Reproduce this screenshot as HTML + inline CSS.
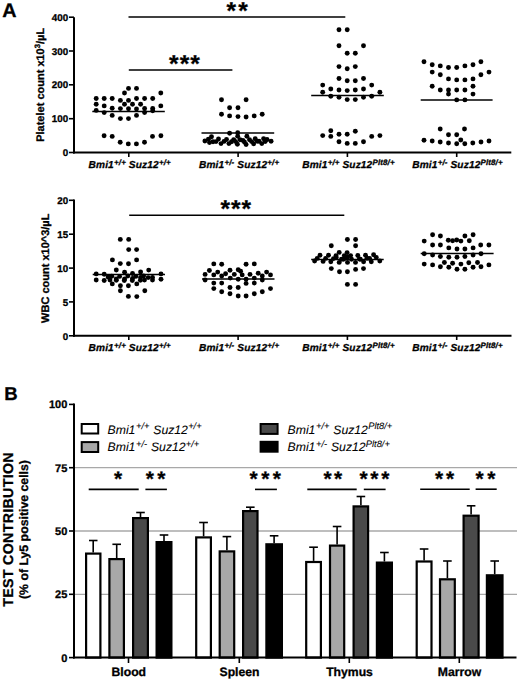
<!DOCTYPE html>
<html><head><meta charset="utf-8"><title>Figure</title>
<style>html,body{margin:0;padding:0;background:#fff;width:520px;height:680px;overflow:hidden}svg{display:block}</style>
</head><body>
<svg width="520" height="680" viewBox="0 0 520 680">
<style>
text{font-family:"Liberation Sans",sans-serif;fill:#000;text-rendering:geometricPrecision;stroke:#000;stroke-width:0.3px;stroke-linejoin:round}
.tk{font-weight:bold;font-size:9.8px}
.tk2{font-weight:bold;font-size:11px}
.xl{font-weight:bold;font-style:italic;letter-spacing:0.15px}
.st{font-weight:bold}
.lg{font-style:italic;font-size:12.2px;stroke-width:0.08px}
.gl{font-weight:bold;font-size:12.2px}
</style>
<rect width="520" height="680" fill="#fff"/>
<text x="2.3" y="16.9" font-weight="bold" font-size="19.8">A</text>
<text x="4.3" y="399.5" font-weight="bold" font-size="18.6">B</text>

<!-- ===== Platelet chart ===== -->
<g stroke="#000" stroke-width="2" fill="none">
<line x1="74" y1="17.3" x2="74" y2="153.5"/>
<line x1="73" y1="152.5" x2="511.3" y2="152.5"/>
</g>
<g stroke="#000" stroke-width="1.6"><line x1="69" y1="152.5" x2="74" y2="152.5"/><text class="tk" x="68.2" y="156.0" text-anchor="end">0</text><line x1="69" y1="118.7" x2="74" y2="118.7"/><text class="tk" x="68.2" y="122.2" text-anchor="end">100</text><line x1="69" y1="84.8" x2="74" y2="84.8"/><text class="tk" x="68.2" y="88.3" text-anchor="end">200</text><line x1="69" y1="51.0" x2="74" y2="51.0"/><text class="tk" x="68.2" y="54.5" text-anchor="end">300</text><line x1="69" y1="17.2" x2="74" y2="17.2"/><text class="tk" x="68.2" y="20.7" text-anchor="end">400</text><line x1="128.8" y1="152" x2="128.8" y2="157"/><line x1="238.1" y1="152" x2="238.1" y2="157"/><line x1="347.4" y1="152" x2="347.4" y2="157"/><line x1="456.7" y1="152" x2="456.7" y2="157"/></g>
<text transform="translate(43.6,141.8) rotate(-90)" font-weight="bold" font-size="11">Platelet count x10<tspan dy="-3.9" font-size="7.7">3</tspan><tspan dy="3.9">/µL</tspan></text>
<g fill="#000"><circle cx="128.5" cy="88.4" r="2.45"/><circle cx="136.5" cy="88.4" r="2.45"/><circle cx="124.5" cy="93.0" r="2.45"/><circle cx="160.8" cy="93.0" r="2.45"/><circle cx="96.2" cy="98.5" r="2.45"/><circle cx="104.2" cy="98.5" r="2.45"/><circle cx="112.2" cy="98.5" r="2.45"/><circle cx="136.5" cy="98.5" r="2.45"/><circle cx="144.6" cy="98.5" r="2.45"/><circle cx="152.7" cy="98.5" r="2.45"/><circle cx="120.4" cy="100.4" r="2.45"/><circle cx="128.5" cy="100.4" r="2.45"/><circle cx="96.2" cy="104.2" r="2.45"/><circle cx="124.5" cy="104.2" r="2.45"/><circle cx="132.5" cy="104.2" r="2.45"/><circle cx="140.6" cy="104.2" r="2.45"/><circle cx="104.2" cy="105.9" r="2.45"/><circle cx="160.8" cy="105.9" r="2.45"/><circle cx="112.2" cy="108.3" r="2.45"/><circle cx="120.4" cy="108.6" r="2.45"/><circle cx="128.5" cy="108.8" r="2.45"/><circle cx="136.5" cy="109.0" r="2.45"/><circle cx="144.6" cy="108.5" r="2.45"/><circle cx="152.7" cy="108.5" r="2.45"/><circle cx="96.2" cy="110.4" r="2.45"/><circle cx="152.7" cy="110.8" r="2.45"/><circle cx="104.2" cy="112.6" r="2.45"/><circle cx="144.6" cy="112.5" r="2.45"/><circle cx="112.2" cy="115.4" r="2.45"/><circle cx="136.5" cy="115.4" r="2.45"/><circle cx="120.4" cy="118.6" r="2.45"/><circle cx="128.5" cy="118.6" r="2.45"/><circle cx="104.1" cy="135.7" r="2.45"/><circle cx="112.2" cy="136.4" r="2.45"/><circle cx="152.5" cy="136.4" r="2.45"/><circle cx="160.9" cy="135.7" r="2.45"/><circle cx="120.2" cy="142.2" r="2.45"/><circle cx="144.5" cy="142.2" r="2.45"/><circle cx="128.3" cy="143.9" r="2.45"/><circle cx="136.4" cy="143.9" r="2.45"/><circle cx="221.5" cy="99.8" r="2.45"/><circle cx="246.1" cy="99.8" r="2.45"/><circle cx="229.6" cy="107.7" r="2.45"/><circle cx="238.0" cy="107.7" r="2.45"/><circle cx="221.5" cy="114.3" r="2.45"/><circle cx="229.6" cy="115.9" r="2.45"/><circle cx="238.0" cy="116.6" r="2.45"/><circle cx="246.1" cy="117.0" r="2.45"/><circle cx="254.2" cy="115.9" r="2.45"/><circle cx="262.2" cy="114.3" r="2.45"/><circle cx="229.6" cy="133.2" r="2.45"/><circle cx="237.7" cy="132.8" r="2.45"/><circle cx="237.7" cy="136.3" r="2.45"/><circle cx="246.9" cy="136.3" r="2.45"/><circle cx="211.5" cy="136.7" r="2.45"/><circle cx="204.9" cy="141.0" r="2.45"/><circle cx="208.4" cy="139.3" r="2.45"/><circle cx="213.0" cy="141.8" r="2.45"/><circle cx="218.5" cy="139.0" r="2.45"/><circle cx="221.0" cy="143.6" r="2.45"/><circle cx="226.5" cy="139.5" r="2.45"/><circle cx="228.9" cy="143.6" r="2.45"/><circle cx="233.7" cy="139.6" r="2.45"/><circle cx="237.4" cy="144.2" r="2.45"/><circle cx="240.0" cy="139.8" r="2.45"/><circle cx="242.9" cy="140.4" r="2.45"/><circle cx="246.1" cy="144.5" r="2.45"/><circle cx="249.5" cy="139.8" r="2.45"/><circle cx="253.6" cy="143.8" r="2.45"/><circle cx="255.2" cy="138.7" r="2.45"/><circle cx="259.0" cy="141.3" r="2.45"/><circle cx="261.8" cy="143.6" r="2.45"/><circle cx="263.6" cy="138.7" r="2.45"/><circle cx="267.0" cy="139.5" r="2.45"/><circle cx="271.1" cy="141.3" r="2.45"/><circle cx="216.0" cy="141.6" r="2.45"/><circle cx="224.0" cy="141.4" r="2.45"/><circle cx="231.5" cy="141.8" r="2.45"/><circle cx="235.6" cy="141.6" r="2.45"/><circle cx="244.4" cy="142.0" r="2.45"/><circle cx="251.6" cy="141.6" r="2.45"/><circle cx="257.2" cy="141.2" r="2.45"/><circle cx="265.2" cy="141.6" r="2.45"/><circle cx="209.5" cy="142.6" r="2.45"/><circle cx="339.0" cy="29.8" r="2.45"/><circle cx="347.2" cy="29.8" r="2.45"/><circle cx="339.0" cy="45.7" r="2.45"/><circle cx="363.5" cy="45.7" r="2.45"/><circle cx="347.2" cy="53.2" r="2.45"/><circle cx="355.3" cy="53.2" r="2.45"/><circle cx="339.0" cy="66.6" r="2.45"/><circle cx="347.2" cy="68.7" r="2.45"/><circle cx="355.3" cy="66.6" r="2.45"/><circle cx="339.0" cy="78.5" r="2.45"/><circle cx="347.2" cy="80.8" r="2.45"/><circle cx="355.3" cy="80.8" r="2.45"/><circle cx="363.5" cy="78.5" r="2.45"/><circle cx="322.7" cy="85.1" r="2.45"/><circle cx="371.7" cy="85.1" r="2.45"/><circle cx="330.8" cy="89.0" r="2.45"/><circle cx="339.0" cy="90.0" r="2.45"/><circle cx="347.2" cy="90.6" r="2.45"/><circle cx="355.3" cy="90.0" r="2.45"/><circle cx="363.5" cy="89.0" r="2.45"/><circle cx="322.7" cy="92.3" r="2.45"/><circle cx="379.9" cy="92.3" r="2.45"/><circle cx="330.8" cy="96.3" r="2.45"/><circle cx="339.0" cy="97.2" r="2.45"/><circle cx="347.2" cy="99.6" r="2.45"/><circle cx="355.3" cy="99.6" r="2.45"/><circle cx="363.5" cy="97.2" r="2.45"/><circle cx="371.7" cy="96.3" r="2.45"/><circle cx="330.8" cy="130.7" r="2.45"/><circle cx="355.3" cy="131.2" r="2.45"/><circle cx="322.7" cy="135.6" r="2.45"/><circle cx="330.8" cy="136.4" r="2.45"/><circle cx="339.0" cy="134.3" r="2.45"/><circle cx="347.2" cy="134.3" r="2.45"/><circle cx="371.7" cy="136.4" r="2.45"/><circle cx="379.9" cy="135.6" r="2.45"/><circle cx="339.0" cy="141.8" r="2.45"/><circle cx="347.2" cy="143.4" r="2.45"/><circle cx="355.3" cy="143.4" r="2.45"/><circle cx="363.5" cy="141.8" r="2.45"/><circle cx="424.0" cy="61.8" r="2.45"/><circle cx="432.2" cy="64.7" r="2.45"/><circle cx="440.3" cy="65.9" r="2.45"/><circle cx="448.5" cy="67.5" r="2.45"/><circle cx="456.7" cy="67.5" r="2.45"/><circle cx="464.9" cy="65.9" r="2.45"/><circle cx="473.0" cy="64.7" r="2.45"/><circle cx="480.9" cy="61.8" r="2.45"/><circle cx="432.2" cy="72.1" r="2.45"/><circle cx="440.3" cy="74.8" r="2.45"/><circle cx="480.9" cy="74.8" r="2.45"/><circle cx="489.0" cy="72.1" r="2.45"/><circle cx="448.5" cy="78.9" r="2.45"/><circle cx="456.7" cy="79.9" r="2.45"/><circle cx="464.9" cy="79.9" r="2.45"/><circle cx="473.0" cy="78.9" r="2.45"/><circle cx="432.2" cy="86.3" r="2.45"/><circle cx="473.0" cy="86.3" r="2.45"/><circle cx="440.3" cy="90.0" r="2.45"/><circle cx="448.5" cy="90.0" r="2.45"/><circle cx="456.7" cy="90.0" r="2.45"/><circle cx="464.9" cy="90.0" r="2.45"/><circle cx="448.5" cy="94.1" r="2.45"/><circle cx="473.0" cy="94.1" r="2.45"/><circle cx="456.7" cy="99.9" r="2.45"/><circle cx="464.9" cy="99.9" r="2.45"/><circle cx="440.2" cy="129.0" r="2.45"/><circle cx="464.5" cy="129.0" r="2.45"/><circle cx="448.5" cy="134.8" r="2.45"/><circle cx="456.7" cy="134.8" r="2.45"/><circle cx="424.0" cy="140.3" r="2.45"/><circle cx="432.2" cy="141.0" r="2.45"/><circle cx="440.2" cy="142.0" r="2.45"/><circle cx="448.5" cy="143.0" r="2.45"/><circle cx="456.7" cy="143.8" r="2.45"/><circle cx="460.8" cy="140.0" r="2.45"/><circle cx="464.8" cy="143.8" r="2.45"/><circle cx="472.8" cy="143.0" r="2.45"/><circle cx="481.0" cy="142.0" r="2.45"/><circle cx="489.0" cy="141.0" r="2.45"/></g>
<g stroke="#000" stroke-width="1.5">
<line x1="92.3" y1="111.5" x2="164.8" y2="111.5"/>
<line x1="201.5" y1="132.9" x2="274.2" y2="132.9"/>
<line x1="311.2" y1="95.5" x2="383.8" y2="95.5"/>
<line x1="420.7" y1="99.9" x2="492.6" y2="99.9"/>
<line x1="128.5" y1="17.0" x2="345.3" y2="17.0"/>
<line x1="128.8" y1="69.9" x2="232.4" y2="69.9"/>
</g>
<text class="st" x="226.6" y="18.5" font-size="24.5" letter-spacing="2.1">**</text>
<text class="st" x="168.9" y="72.2" font-size="24.5" letter-spacing="1.2">***</text>
<text class="xl" x="88.6" y="168.4" font-size="10.1">Bmi1<tspan dx="0.2" dy="-3.3" font-size="7.9">+/+</tspan><tspan dx="2.9" dy="3.3">Suz12</tspan><tspan dx="0.1" dy="-3.3" font-size="7.9">+/+</tspan></text>
<text class="xl" x="199.0" y="168.4" font-size="10.1">Bmi1<tspan dx="0.2" dy="-3.3" font-size="7.9">+/-</tspan><tspan dx="2.9" dy="3.3">Suz12</tspan><tspan dx="0.1" dy="-3.3" font-size="7.9">+/+</tspan></text>
<text class="xl" x="302.2" y="168.4" font-size="10.1">Bmi1<tspan dx="0.2" dy="-3.3" font-size="7.9">+/+</tspan><tspan dx="2.9" dy="3.3">Suz12</tspan><tspan dx="0.1" dy="-3.3" font-size="7.9">Plt8/+</tspan></text>
<text class="xl" x="412.2" y="168.4" font-size="10.1">Bmi1<tspan dx="0.2" dy="-3.3" font-size="7.9">+/-</tspan><tspan dx="2.9" dy="3.3">Suz12</tspan><tspan dx="0.1" dy="-3.3" font-size="7.9">Plt8/+</tspan></text>

<!-- ===== WBC chart ===== -->
<g stroke="#000" stroke-width="2" fill="none">
<line x1="74" y1="199.4" x2="74" y2="336.8"/>
<line x1="73" y1="335.8" x2="511.5" y2="335.8"/>
</g>
<g stroke="#000" stroke-width="1.6"><line x1="69" y1="335.8" x2="74" y2="335.8"/><text class="tk" x="68.2" y="339.5" text-anchor="end">0</text><line x1="69" y1="301.9" x2="74" y2="301.9"/><text class="tk" x="68.2" y="305.6" text-anchor="end">5</text><line x1="69" y1="268.1" x2="74" y2="268.1"/><text class="tk" x="68.2" y="271.8" text-anchor="end">10</text><line x1="69" y1="234.2" x2="74" y2="234.2"/><text class="tk" x="68.2" y="237.9" text-anchor="end">15</text><line x1="69" y1="200.3" x2="74" y2="200.3"/><text class="tk" x="68.2" y="204.0" text-anchor="end">20</text><line x1="128.8" y1="335" x2="128.8" y2="340"/><line x1="238.1" y1="335" x2="238.1" y2="340"/><line x1="347.4" y1="335" x2="347.4" y2="340"/><line x1="456.7" y1="335" x2="456.7" y2="340"/></g>
<text transform="translate(49.4,322.9) rotate(-90)" font-weight="bold" font-size="11">WBC count x10^3/µL</text>
<g fill="#000"><circle cx="120.3" cy="239.4" r="2.45"/><circle cx="128.7" cy="239.4" r="2.45"/><circle cx="128.7" cy="249.6" r="2.45"/><circle cx="136.6" cy="249.6" r="2.45"/><circle cx="112.4" cy="259.9" r="2.45"/><circle cx="136.6" cy="259.9" r="2.45"/><circle cx="120.3" cy="263.6" r="2.45"/><circle cx="128.5" cy="263.8" r="2.45"/><circle cx="116.3" cy="270.0" r="2.45"/><circle cx="148.7" cy="270.1" r="2.45"/><circle cx="124.6" cy="272.2" r="2.45"/><circle cx="140.6" cy="272.0" r="2.45"/><circle cx="132.5" cy="273.5" r="2.45"/><circle cx="96.2" cy="273.9" r="2.45"/><circle cx="104.2" cy="274.3" r="2.45"/><circle cx="161.0" cy="273.9" r="2.45"/><circle cx="108.1" cy="277.0" r="2.45"/><circle cx="116.2" cy="278.9" r="2.45"/><circle cx="124.6" cy="278.9" r="2.45"/><circle cx="132.5" cy="278.5" r="2.45"/><circle cx="140.6" cy="277.4" r="2.45"/><circle cx="152.5" cy="277.4" r="2.45"/><circle cx="96.2" cy="280.0" r="2.45"/><circle cx="104.2" cy="280.5" r="2.45"/><circle cx="144.5" cy="280.1" r="2.45"/><circle cx="152.5" cy="280.1" r="2.45"/><circle cx="161.0" cy="279.3" r="2.45"/><circle cx="112.3" cy="283.9" r="2.45"/><circle cx="136.8" cy="283.9" r="2.45"/><circle cx="120.4" cy="285.8" r="2.45"/><circle cx="128.4" cy="285.8" r="2.45"/><circle cx="120.4" cy="290.8" r="2.45"/><circle cx="144.8" cy="290.8" r="2.45"/><circle cx="128.4" cy="296.4" r="2.45"/><circle cx="136.8" cy="296.6" r="2.45"/><circle cx="111.8" cy="276.2" r="2.45"/><circle cx="119.6" cy="276.4" r="2.45"/><circle cx="127.8" cy="276.0" r="2.45"/><circle cx="135.8" cy="276.4" r="2.45"/><circle cx="143.6" cy="276.0" r="2.45"/><circle cx="148.2" cy="277.6" r="2.45"/><circle cx="110.0" cy="280.0" r="2.45"/><circle cx="116.3" cy="280.2" r="2.45"/><circle cx="124.3" cy="280.5" r="2.45"/><circle cx="132.3" cy="280.5" r="2.45"/><circle cx="140.4" cy="280.2" r="2.45"/><circle cx="213.8" cy="263.9" r="2.45"/><circle cx="221.7" cy="264.2" r="2.45"/><circle cx="246.1" cy="264.2" r="2.45"/><circle cx="254.3" cy="263.9" r="2.45"/><circle cx="209.4" cy="270.5" r="2.45"/><circle cx="217.7" cy="272.1" r="2.45"/><circle cx="230.0" cy="270.2" r="2.45"/><circle cx="238.2" cy="269.7" r="2.45"/><circle cx="240.6" cy="271.3" r="2.45"/><circle cx="266.6" cy="272.1" r="2.45"/><circle cx="205.1" cy="274.4" r="2.45"/><circle cx="213.8" cy="274.9" r="2.45"/><circle cx="221.7" cy="276.0" r="2.45"/><circle cx="225.6" cy="273.7" r="2.45"/><circle cx="234.3" cy="274.4" r="2.45"/><circle cx="242.2" cy="274.9" r="2.45"/><circle cx="250.0" cy="274.4" r="2.45"/><circle cx="258.2" cy="273.3" r="2.45"/><circle cx="262.3" cy="276.0" r="2.45"/><circle cx="270.5" cy="274.9" r="2.45"/><circle cx="205.1" cy="280.0" r="2.45"/><circle cx="230.3" cy="278.1" r="2.45"/><circle cx="238.2" cy="279.2" r="2.45"/><circle cx="246.1" cy="279.2" r="2.45"/><circle cx="254.3" cy="278.1" r="2.45"/><circle cx="262.3" cy="280.0" r="2.45"/><circle cx="213.8" cy="283.1" r="2.45"/><circle cx="221.7" cy="283.1" r="2.45"/><circle cx="246.1" cy="283.4" r="2.45"/><circle cx="254.3" cy="283.1" r="2.45"/><circle cx="213.8" cy="288.6" r="2.45"/><circle cx="230.0" cy="287.5" r="2.45"/><circle cx="238.2" cy="287.5" r="2.45"/><circle cx="270.5" cy="288.6" r="2.45"/><circle cx="221.7" cy="291.8" r="2.45"/><circle cx="262.3" cy="291.8" r="2.45"/><circle cx="230.0" cy="293.8" r="2.45"/><circle cx="254.3" cy="293.8" r="2.45"/><circle cx="238.2" cy="296.0" r="2.45"/><circle cx="246.1" cy="296.0" r="2.45"/><circle cx="347.4" cy="239.5" r="2.45"/><circle cx="355.6" cy="239.5" r="2.45"/><circle cx="331.3" cy="245.8" r="2.45"/><circle cx="355.6" cy="245.8" r="2.45"/><circle cx="320.0" cy="255.2" r="2.45"/><circle cx="328.5" cy="255.2" r="2.45"/><circle cx="339.2" cy="252.4" r="2.45"/><circle cx="347.1" cy="252.6" r="2.45"/><circle cx="357.8" cy="255.5" r="2.45"/><circle cx="365.5" cy="255.2" r="2.45"/><circle cx="373.6" cy="254.8" r="2.45"/><circle cx="336.2" cy="257.5" r="2.45"/><circle cx="344.6" cy="258.2" r="2.45"/><circle cx="347.1" cy="257.5" r="2.45"/><circle cx="359.4" cy="259.0" r="2.45"/><circle cx="367.0" cy="258.3" r="2.45"/><circle cx="376.3" cy="257.5" r="2.45"/><circle cx="314.6" cy="261.0" r="2.45"/><circle cx="323.1" cy="261.4" r="2.45"/><circle cx="330.8" cy="261.8" r="2.45"/><circle cx="339.2" cy="262.4" r="2.45"/><circle cx="347.5" cy="262.4" r="2.45"/><circle cx="355.5" cy="262.4" r="2.45"/><circle cx="363.6" cy="261.8" r="2.45"/><circle cx="371.3" cy="261.8" r="2.45"/><circle cx="379.8" cy="261.0" r="2.45"/><circle cx="331.3" cy="268.6" r="2.45"/><circle cx="339.5" cy="271.8" r="2.45"/><circle cx="347.4" cy="271.8" r="2.45"/><circle cx="355.6" cy="269.4" r="2.45"/><circle cx="363.5" cy="268.6" r="2.45"/><circle cx="347.4" cy="284.4" r="2.45"/><circle cx="355.6" cy="284.4" r="2.45"/><circle cx="344.3" cy="255.6" r="2.45"/><circle cx="350.6" cy="255.6" r="2.45"/><circle cx="347.5" cy="256.8" r="2.45"/><circle cx="343.5" cy="259.2" r="2.45"/><circle cx="351.5" cy="259.2" r="2.45"/><circle cx="336.0" cy="255.8" r="2.45"/><circle cx="333.5" cy="258.6" r="2.45"/><circle cx="341.5" cy="259.3" r="2.45"/><circle cx="360.3" cy="259.3" r="2.45"/><circle cx="317.2" cy="258.4" r="2.45"/><circle cx="325.6" cy="258.4" r="2.45"/><circle cx="369.6" cy="258.4" r="2.45"/><circle cx="432.6" cy="234.8" r="2.45"/><circle cx="440.4" cy="236.0" r="2.45"/><circle cx="464.9" cy="236.0" r="2.45"/><circle cx="473.1" cy="234.8" r="2.45"/><circle cx="424.2" cy="241.1" r="2.45"/><circle cx="448.3" cy="240.3" r="2.45"/><circle cx="452.6" cy="240.8" r="2.45"/><circle cx="456.7" cy="240.0" r="2.45"/><circle cx="460.9" cy="241.1" r="2.45"/><circle cx="469.3" cy="240.8" r="2.45"/><circle cx="432.6" cy="245.0" r="2.45"/><circle cx="440.4" cy="245.0" r="2.45"/><circle cx="480.7" cy="245.0" r="2.45"/><circle cx="488.9" cy="245.0" r="2.45"/><circle cx="448.8" cy="247.9" r="2.45"/><circle cx="457.0" cy="249.0" r="2.45"/><circle cx="464.9" cy="249.0" r="2.45"/><circle cx="473.1" cy="247.9" r="2.45"/><circle cx="424.2" cy="253.7" r="2.45"/><circle cx="432.6" cy="255.0" r="2.45"/><circle cx="440.4" cy="256.5" r="2.45"/><circle cx="448.8" cy="257.3" r="2.45"/><circle cx="457.0" cy="257.3" r="2.45"/><circle cx="464.9" cy="256.5" r="2.45"/><circle cx="473.1" cy="255.0" r="2.45"/><circle cx="481.0" cy="253.7" r="2.45"/><circle cx="424.2" cy="264.1" r="2.45"/><circle cx="432.6" cy="264.9" r="2.45"/><circle cx="444.4" cy="262.5" r="2.45"/><circle cx="452.6" cy="263.2" r="2.45"/><circle cx="460.9" cy="264.1" r="2.45"/><circle cx="468.8" cy="262.8" r="2.45"/><circle cx="477.5" cy="262.5" r="2.45"/><circle cx="488.9" cy="264.9" r="2.45"/><circle cx="440.4" cy="266.8" r="2.45"/><circle cx="448.8" cy="267.3" r="2.45"/><circle cx="457.0" cy="269.2" r="2.45"/><circle cx="464.9" cy="269.2" r="2.45"/><circle cx="473.1" cy="267.3" r="2.45"/><circle cx="481.0" cy="266.8" r="2.45"/></g>
<g stroke="#000" stroke-width="1.5">
<line x1="92.7" y1="274.6" x2="165" y2="274.6"/>
<line x1="202" y1="278.9" x2="274.5" y2="278.9"/>
<line x1="311.2" y1="259.5" x2="383.7" y2="259.5"/>
<line x1="420.7" y1="253.4" x2="493.6" y2="253.4"/>
<line x1="129.2" y1="215.2" x2="344.3" y2="215.2"/>
</g>
<text class="st" x="220.6" y="217.0" font-size="24.5" letter-spacing="0.9">***</text>
<text class="xl" x="88.6" y="351.4" font-size="10.1">Bmi1<tspan dx="0.2" dy="-3.3" font-size="7.9">+/+</tspan><tspan dx="2.9" dy="3.3">Suz12</tspan><tspan dx="0.1" dy="-3.3" font-size="7.9">+/+</tspan></text>
<text class="xl" x="199.0" y="351.4" font-size="10.1">Bmi1<tspan dx="0.2" dy="-3.3" font-size="7.9">+/-</tspan><tspan dx="2.9" dy="3.3">Suz12</tspan><tspan dx="0.1" dy="-3.3" font-size="7.9">+/+</tspan></text>
<text class="xl" x="302.2" y="351.4" font-size="10.1">Bmi1<tspan dx="0.2" dy="-3.3" font-size="7.9">+/+</tspan><tspan dx="2.9" dy="3.3">Suz12</tspan><tspan dx="0.1" dy="-3.3" font-size="7.9">Plt8/+</tspan></text>
<text class="xl" x="412.2" y="351.4" font-size="10.1">Bmi1<tspan dx="0.2" dy="-3.3" font-size="7.9">+/-</tspan><tspan dx="2.9" dy="3.3">Suz12</tspan><tspan dx="0.1" dy="-3.3" font-size="7.9">Plt8/+</tspan></text>

<!-- ===== Bar chart ===== -->
<g stroke="#a8a8a8" stroke-width="1.3"><line x1="74" y1="594.3" x2="517" y2="594.3"/><line x1="74" y1="531.0" x2="517" y2="531.0"/><line x1="74" y1="467.7" x2="517" y2="467.7"/></g>
<line x1="93.2" y1="552.5" x2="93.2" y2="540.5" stroke="#000" stroke-width="1.6"/>
<line x1="89.0" y1="540.5" x2="97.5" y2="540.5" stroke="#000" stroke-width="1.6"/>
<rect x="86.1" y="553.6" width="14.3" height="104.0" fill="#ffffff" stroke="#000" stroke-width="2.2"/>
<line x1="116.7" y1="558.0" x2="116.7" y2="544.3" stroke="#000" stroke-width="1.6"/>
<line x1="112.4" y1="544.3" x2="121.0" y2="544.3" stroke="#000" stroke-width="1.6"/>
<rect x="109.4" y="559.1" width="14.5" height="98.5" fill="#a8a8a8" stroke="#000" stroke-width="2.2"/>
<line x1="140.5" y1="517.0" x2="140.5" y2="512.5" stroke="#000" stroke-width="1.6"/>
<line x1="136.2" y1="512.5" x2="144.8" y2="512.5" stroke="#000" stroke-width="1.6"/>
<rect x="133.1" y="518.1" width="14.8" height="139.5" fill="#4a4a4a" stroke="#000" stroke-width="2.2"/>
<line x1="164.0" y1="541.0" x2="164.0" y2="535.0" stroke="#000" stroke-width="1.6"/>
<line x1="159.7" y1="535.0" x2="168.3" y2="535.0" stroke="#000" stroke-width="1.6"/>
<rect x="156.6" y="542.1" width="14.8" height="115.5" fill="#000000" stroke="#000" stroke-width="2.2"/>
<line x1="203.6" y1="536.3" x2="203.6" y2="522.5" stroke="#000" stroke-width="1.6"/>
<line x1="199.2" y1="522.5" x2="207.9" y2="522.5" stroke="#000" stroke-width="1.6"/>
<rect x="196.2" y="537.4" width="14.7" height="120.2" fill="#ffffff" stroke="#000" stroke-width="2.2"/>
<line x1="226.9" y1="550.3" x2="226.9" y2="536.6" stroke="#000" stroke-width="1.6"/>
<line x1="222.6" y1="536.6" x2="231.2" y2="536.6" stroke="#000" stroke-width="1.6"/>
<rect x="219.7" y="551.4" width="14.5" height="106.2" fill="#a8a8a8" stroke="#000" stroke-width="2.2"/>
<line x1="250.3" y1="510.0" x2="250.3" y2="507.2" stroke="#000" stroke-width="1.6"/>
<line x1="246.0" y1="507.2" x2="254.6" y2="507.2" stroke="#000" stroke-width="1.6"/>
<rect x="243.1" y="511.1" width="14.4" height="146.5" fill="#4a4a4a" stroke="#000" stroke-width="2.2"/>
<line x1="274.1" y1="543.2" x2="274.1" y2="535.8" stroke="#000" stroke-width="1.6"/>
<line x1="269.8" y1="535.8" x2="278.4" y2="535.8" stroke="#000" stroke-width="1.6"/>
<rect x="266.4" y="544.3" width="15.5" height="113.3" fill="#000000" stroke="#000" stroke-width="2.2"/>
<line x1="313.6" y1="560.9" x2="313.6" y2="547.2" stroke="#000" stroke-width="1.6"/>
<line x1="309.2" y1="547.2" x2="317.9" y2="547.2" stroke="#000" stroke-width="1.6"/>
<rect x="306.2" y="562.0" width="14.7" height="95.6" fill="#ffffff" stroke="#000" stroke-width="2.2"/>
<line x1="337.1" y1="544.5" x2="337.1" y2="526.5" stroke="#000" stroke-width="1.6"/>
<line x1="332.8" y1="526.5" x2="341.4" y2="526.5" stroke="#000" stroke-width="1.6"/>
<rect x="330.0" y="545.6" width="14.2" height="112.0" fill="#a8a8a8" stroke="#000" stroke-width="2.2"/>
<line x1="360.9" y1="505.3" x2="360.9" y2="496.5" stroke="#000" stroke-width="1.6"/>
<line x1="356.6" y1="496.5" x2="365.2" y2="496.5" stroke="#000" stroke-width="1.6"/>
<rect x="353.6" y="506.4" width="14.5" height="151.2" fill="#4a4a4a" stroke="#000" stroke-width="2.2"/>
<line x1="384.4" y1="561.5" x2="384.4" y2="552.5" stroke="#000" stroke-width="1.6"/>
<line x1="380.1" y1="552.5" x2="388.7" y2="552.5" stroke="#000" stroke-width="1.6"/>
<rect x="376.9" y="562.6" width="15.0" height="95.0" fill="#000000" stroke="#000" stroke-width="2.2"/>
<line x1="424.1" y1="560.4" x2="424.1" y2="549.0" stroke="#000" stroke-width="1.6"/>
<line x1="419.8" y1="549.0" x2="428.4" y2="549.0" stroke="#000" stroke-width="1.6"/>
<rect x="416.7" y="561.5" width="14.8" height="96.1" fill="#ffffff" stroke="#000" stroke-width="2.2"/>
<line x1="447.4" y1="578.2" x2="447.4" y2="561.0" stroke="#000" stroke-width="1.6"/>
<line x1="443.1" y1="561.0" x2="451.7" y2="561.0" stroke="#000" stroke-width="1.6"/>
<rect x="440.0" y="579.3" width="14.8" height="78.3" fill="#a8a8a8" stroke="#000" stroke-width="2.2"/>
<line x1="471.1" y1="514.6" x2="471.1" y2="505.8" stroke="#000" stroke-width="1.6"/>
<line x1="466.8" y1="505.8" x2="475.4" y2="505.8" stroke="#000" stroke-width="1.6"/>
<rect x="463.6" y="515.7" width="15.0" height="141.9" fill="#4a4a4a" stroke="#000" stroke-width="2.2"/>
<line x1="494.7" y1="574.2" x2="494.7" y2="561.0" stroke="#000" stroke-width="1.6"/>
<line x1="490.4" y1="561.0" x2="499.0" y2="561.0" stroke="#000" stroke-width="1.6"/>
<rect x="486.9" y="575.3" width="15.6" height="82.3" fill="#000000" stroke="#000" stroke-width="2.2"/>
<g stroke="#000" stroke-width="2" fill="none">
<line x1="74" y1="403.5" x2="74" y2="658.6"/>
<line x1="73" y1="657.6" x2="516.5" y2="657.6"/>
</g>
<g stroke="#000" stroke-width="1.6"><line x1="69" y1="657.6" x2="74" y2="657.6"/><text class="tk2" x="67.3" y="661.5" text-anchor="end">0</text><line x1="69" y1="594.3" x2="74" y2="594.3"/><text class="tk2" x="67.3" y="598.2" text-anchor="end">25</text><line x1="69" y1="531.0" x2="74" y2="531.0"/><text class="tk2" x="67.3" y="534.9" text-anchor="end">50</text><line x1="69" y1="467.7" x2="74" y2="467.7"/><text class="tk2" x="67.3" y="471.6" text-anchor="end">75</text><line x1="69" y1="404.4" x2="74" y2="404.4"/><text class="tk2" x="67.3" y="408.3" text-anchor="end">100</text><line x1="128.5" y1="657" x2="128.5" y2="663"/><line x1="239.3" y1="657" x2="239.3" y2="663"/><line x1="349.3" y1="657" x2="349.3" y2="663"/><line x1="459.3" y1="657" x2="459.3" y2="663"/></g>
<text class="gl" x="128.8" y="676.3" text-anchor="middle">Blood</text>
<text class="gl" x="239.5" y="676.3" text-anchor="middle">Spleen</text>
<text class="gl" x="349.5" y="676.3" text-anchor="middle">Thymus</text>
<text class="gl" x="459.5" y="676.3" text-anchor="middle">Marrow</text>
<text transform="translate(12.8,606.8) rotate(-90)" font-weight="bold" font-size="14.2" letter-spacing="0.34">TEST CONTRIBUTION</text>
<text transform="translate(27.6,599.0) rotate(-90)" font-weight="bold" font-size="12.3">(% of Ly5 positive cells)</text>
<!-- legend -->
<g stroke="#000" stroke-width="2">
<rect x="81.7" y="424.0" width="16.5" height="9.5" fill="#fff"/>
<rect x="81.7" y="442.1" width="16.5" height="9.9" fill="#a8a8a8"/>
<rect x="260.6" y="424.0" width="17.0" height="9.9" fill="#4a4a4a"/>
<rect x="260.6" y="441.8" width="17.0" height="9.9" fill="#000"/>
</g>
<text class="lg" x="107.6" y="433.8" font-size="12.2">Bmi1<tspan dx="0.7" dy="-4.4" font-size="9.3">+/+</tspan><tspan dx="3.8" dy="4.4">Suz12</tspan><tspan dx="0.3" dy="-4.4" font-size="9.3">+/+</tspan></text>
<text class="lg" x="107.6" y="451.2" font-size="12.2">Bmi1<tspan dx="0.7" dy="-4.4" font-size="9.3">+/-</tspan><tspan dx="3.8" dy="4.4">Suz12</tspan><tspan dx="0.3" dy="-4.4" font-size="9.3">+/+</tspan></text>
<text class="lg" x="287.6" y="433.6" font-size="12.2">Bmi1<tspan dx="0.7" dy="-4.4" font-size="9.3">+/+</tspan><tspan dx="3.8" dy="4.4">Suz12</tspan><tspan dx="0.3" dy="-4.4" font-size="9.3">Plt8/+</tspan></text>
<text class="lg" x="287.6" y="451.2" font-size="12.2">Bmi1<tspan dx="0.7" dy="-4.4" font-size="9.3">+/-</tspan><tspan dx="3.8" dy="4.4">Suz12</tspan><tspan dx="0.3" dy="-4.4" font-size="9.3">Plt8/+</tspan></text>
<!-- significance -->
<g stroke="#000" stroke-width="1.6">
<line x1="88.7" y1="489.4" x2="138.7" y2="489.4"/>
<line x1="145.4" y1="489.4" x2="166.9" y2="489.4"/>
<line x1="255" y1="489.4" x2="276.9" y2="489.4"/>
<line x1="307.3" y1="489.4" x2="356.7" y2="489.4"/>
<line x1="363.8" y1="489.4" x2="385.6" y2="489.4"/>
<line x1="420.2" y1="489.2" x2="469.7" y2="489.2"/>
<line x1="475.6" y1="489.2" x2="496.7" y2="489.2"/>
</g>
<text class="st" x="114.0" y="486.3" font-size="21" letter-spacing="0">*</text>
<text class="st" x="145.8" y="486.3" font-size="21" letter-spacing="3.3">**</text>
<text class="st" x="249.6" y="486.3" font-size="21" letter-spacing="3.4">***</text>
<text class="st" x="323.5" y="486.3" font-size="21" letter-spacing="2.3">**</text>
<text class="st" x="359.6" y="486.3" font-size="21" letter-spacing="2.6">***</text>
<text class="st" x="435.0" y="486.3" font-size="21" letter-spacing="2.9">**</text>
<text class="st" x="475.6" y="486.3" font-size="21" letter-spacing="3.6">**</text>
</svg>
</body></html>
